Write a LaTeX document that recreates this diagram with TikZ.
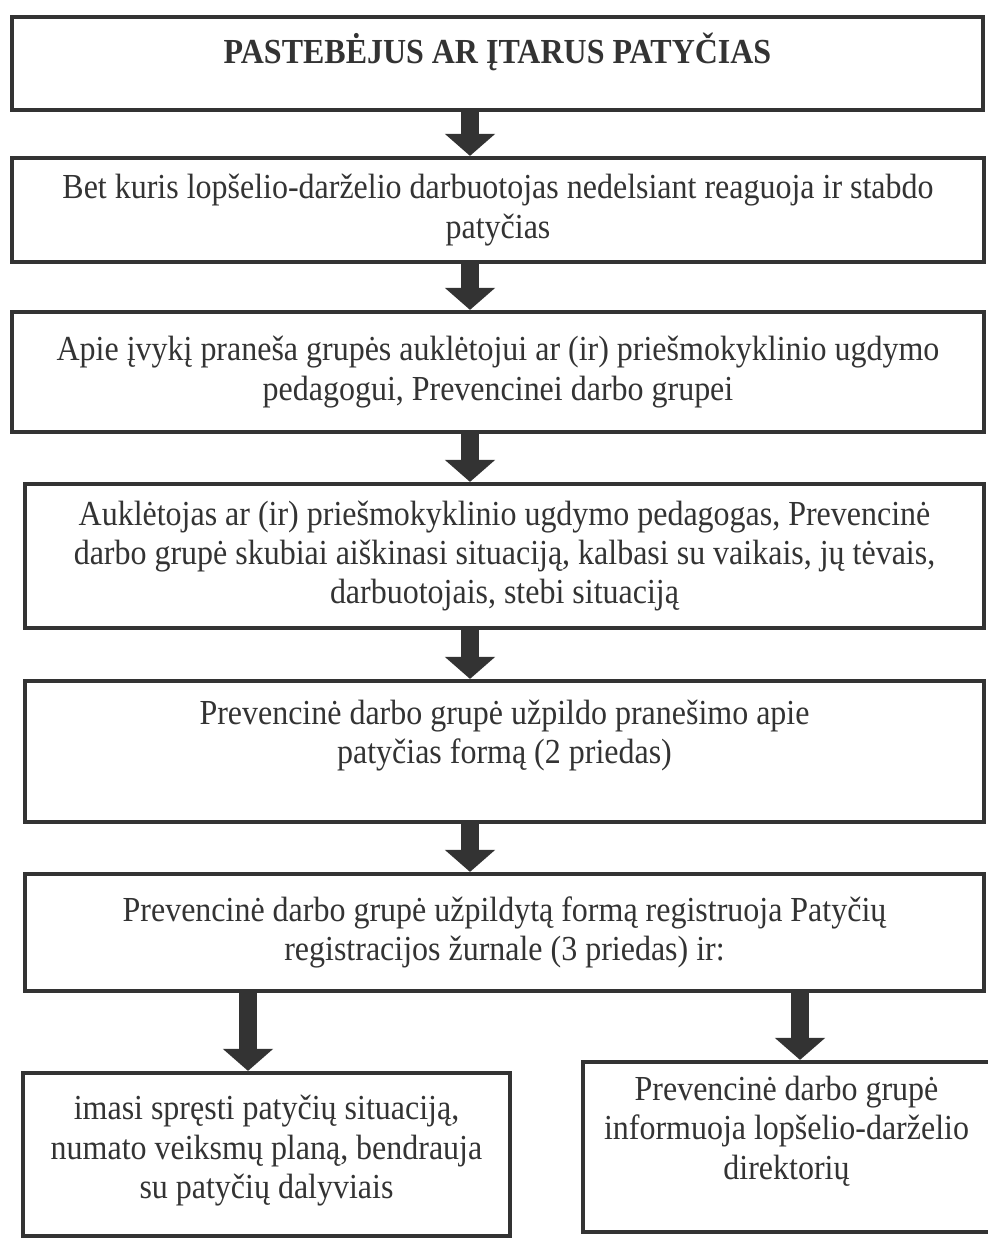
\documentclass[tikz,border=0pt]{standalone}
\usepackage{fontspec}
\setmainfont[FakeStretch=0.91]{Liberation Serif}
\usepackage{tikz}
\usetikzlibrary{positioning,arrows.meta}

\begin{document}
\begin{tikzpicture}[x=0.02cm, y=-0.02cm,
        stepbox/.style={rectangle, draw=black!80, line width=2.4pt, align=center, text=black!80,
                        font=\fontsize{20}{22.4}\selectfont, inner sep=0pt},
        bigarrow/.style={-{Triangle[width=0.98cm,length=0.44cm]}, line width=0.36cm, draw=black!80}]
    \path[use as bounding box, fill=white] (0,0) rectangle (987,1239);

                \node (spot) [stepbox, minimum width=19.42cm, minimum height=1.86cm, text depth=0.62cm] at (497.5,63.5) {\textbf{PASTEBĖJUS AR ĮTARUS PATYČIAS}};
                \node (stop) [stepbox, minimum width=19.44cm, minimum height=2.08cm] at (498,210) {Bet kuris lopšelio-darželio darbuotojas nedelsiant reaguoja ir stabdo\\ patyčias};
                \node (tell) [stepbox, minimum width=19.44cm, minimum height=2.4cm] at (498,372) {Apie įvykį praneša grupės auklėtojui ar (ir) priešmokyklinio ugdymo\\ pedagogui, Prevencinei darbo grupei};
                \node (clarify) [stepbox, minimum width=19.18cm, minimum height=2.88cm] at (504.5,556) {Auklėtojas ar (ir) priešmokyklinio ugdymo pedagogas, Prevencinė\\ darbo grupė skubiai aiškinasi situaciją, kalbasi su vaikais, jų tėvais,\\ darbuotojais, stebi situaciją};
                \node (form) [stepbox, minimum width=19.18cm, minimum height=2.82cm, text depth=0.78cm] at (504.5,751.5) {Prevencinė darbo grupė užpildo pranešimo apie\\ patyčias formą (2 priedas)};
                \node (journal) [stepbox, minimum width=19.18cm, minimum height=2.34cm] at (504.5,932.5) {Prevencinė darbo grupė užpildytą formą registruoja Patyčių\\ registracijos žurnale (3 priedas) ir:};
                \node (solve) [stepbox, minimum width=9.74cm, minimum height=3.26cm, text depth=0.3cm] at (266.5,1154.5) {imasi spręsti patyčių situaciją,\\ numato veiksmų planą, bendrauja\\ su patyčių dalyviais};
                \node (director) [stepbox, minimum width=8.14cm, minimum height=3.4cm, text depth=0.78cm] at (786.5,1147) {Prevencinė darbo grupė\\ informuoja lopšelio-darželio\\ direktorių};

                \coordinate (ax) at (470,0);
                \coordinate (lx) at (248,0);
                \coordinate (rx) at (800,0);

			\draw[bigarrow] (spot.south -| ax) -- (stop.north -| ax);
			\draw[bigarrow] (stop.south -| ax) -- (tell.north -| ax);
			\draw[bigarrow] (tell.south -| ax) -- (clarify.north -| ax);
			\draw[bigarrow] (clarify.south -| ax) -- (form.north -| ax);
			\draw[bigarrow] (form.south -| ax) -- (journal.north -| ax);
                \draw[bigarrow] (journal.south -| lx) -- (solve.north -| lx);
                \draw[bigarrow] (journal.south -| rx) -- (director.north -| rx);
	\end{tikzpicture}
\end{document}
